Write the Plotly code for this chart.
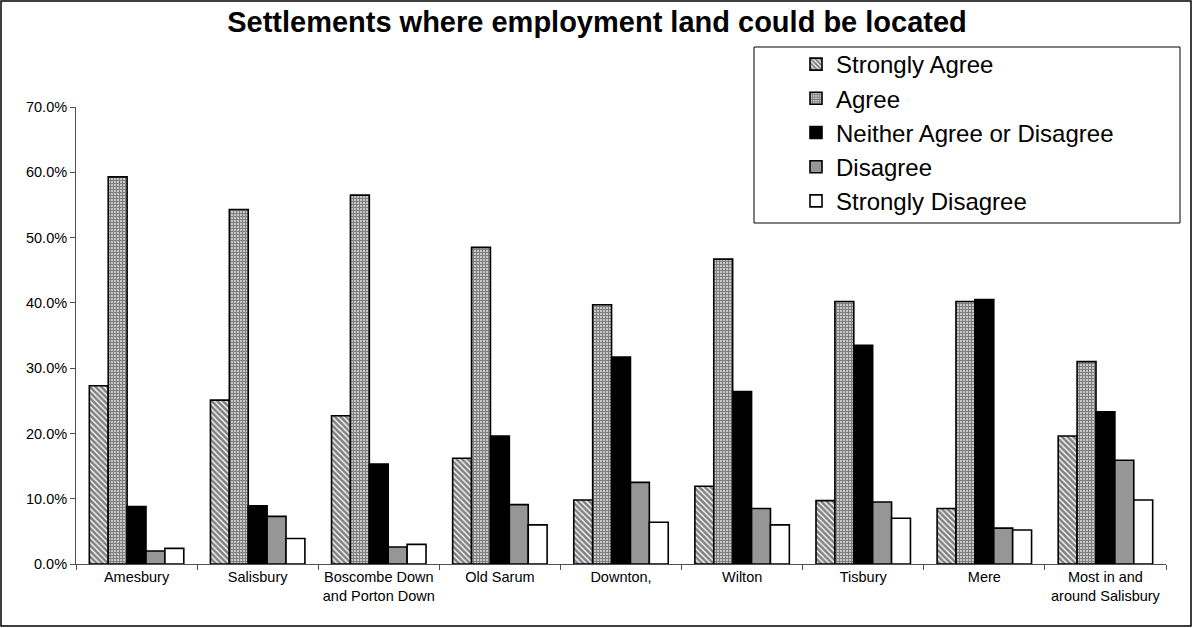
import plotly.graph_objects as go

# Survey responses by settlement (share of respondents)
settlements = [
    "Amesbury", "Salisbury", "Boscombe Down<br>and Porton Down", "Old Sarum",
    "Downton,", "Wilton", "Tisbury", "Mere", "Most in and<br>around Salisbury",
]
strongly_agree = [0.273, 0.251, 0.227, 0.162, 0.098, 0.119, 0.097, 0.085, 0.196]
agree = [0.593, 0.543, 0.565, 0.485, 0.397, 0.467, 0.402, 0.402, 0.310]
neither = [0.088, 0.089, 0.153, 0.196, 0.317, 0.264, 0.335, 0.405, 0.233]
disagree = [0.020, 0.073, 0.026, 0.091, 0.125, 0.085, 0.095, 0.055, 0.159]
strongly_disagree = [0.024, 0.039, 0.030, 0.060, 0.064, 0.060, 0.070, 0.052, 0.098]

series_names = ["Strongly Agree", "Agree", "Neither Agree or Disagree",
                "Disagree", "Strongly Disagree"]
series_values = [strongly_agree, agree, neither, disagree, strongly_disagree]

W, H = 1194, 628
ML, MR, MT, MB = 76, 28, 107, 64
PW, PH = W - ML - MR, H - MT - MB


def px_x(x):
    return (x - ML) / PW


def px_y(y):
    return (H - MB - y) / PH


styles = [
    dict(color="white", pattern=dict(shape="\\", size=4, solidity=0.65,
                                     fgcolor="black", bgcolor="white")),
    dict(color="white", pattern=dict(shape="+", size=3, solidity=0.75,
                                     fgcolor="black", bgcolor="white")),
    dict(color="black"),
    dict(color="#969696"),
    dict(color="white"),
]

fig = go.Figure()
for i, (name, vals, st) in enumerate(zip(series_names, series_values, styles)):
    marker = dict(color=st["color"], line=dict(color="black", width=1.6))
    if "pattern" in st:
        marker["pattern"] = st["pattern"]
    fig.add_trace(go.Bar(
        name=name, x=settlements, y=vals, marker=marker,
        legendgroup=f"g{i}",
    ))

AX = "#505050"
fig.update_layout(
    width=W, height=H,
    margin=dict(l=ML, r=MR, t=MT, b=MB),
    paper_bgcolor="white", plot_bgcolor="white",
    barmode="group", bargap=0.22, bargroupgap=0,
    font=dict(family="Arial, Liberation Sans, sans-serif", color="black"),
    title=dict(
        text="<b>Settlements where employment land could be located</b>",
        x=0.5, xanchor="center", y=1 - 22 / H, yanchor="middle",
        font=dict(size=29, color="black"),
    ),
    showlegend=True,
    legend=dict(
        x=px_x(796), y=px_y(42), xanchor="left", yanchor="top",
        font=dict(size=24, color="black"),
        bgcolor="rgba(0,0,0,0)", borderwidth=0,
        traceorder="grouped", tracegroupgap=0,
        itemclick=False,
    ),
    xaxis=dict(
        showline=True, linecolor=AX, linewidth=1,
        ticks="outside", tickson="boundaries", ticklen=5, tickcolor=AX,
        tickfont=dict(size=14.5, color="black"),
        showgrid=False,
    ),
    yaxis=dict(
        range=[0, 0.7], dtick=0.1, tickformat=".1%",
        showline=True, linecolor=AX, linewidth=1,
        ticks="outside", ticklen=5, tickcolor=AX,
        tickfont=dict(size=14.5, color="black"),
        showgrid=False, zeroline=False,
    ),
    shapes=[
        # legend frame
        dict(type="rect", xref="paper", yref="paper",
             x0=px_x(754), x1=px_x(1180), y0=px_y(223), y1=px_y(47),
             line=dict(color="black", width=1), layer="above"),
        # outer chart frame
        dict(type="rect", xref="paper", yref="paper",
             x0=px_x(1), x1=px_x(1191), y0=px_y(626), y1=px_y(1),
             line=dict(color="black", width=1.5), layer="above"),
    ],
)

fig.write_html("out.html")
